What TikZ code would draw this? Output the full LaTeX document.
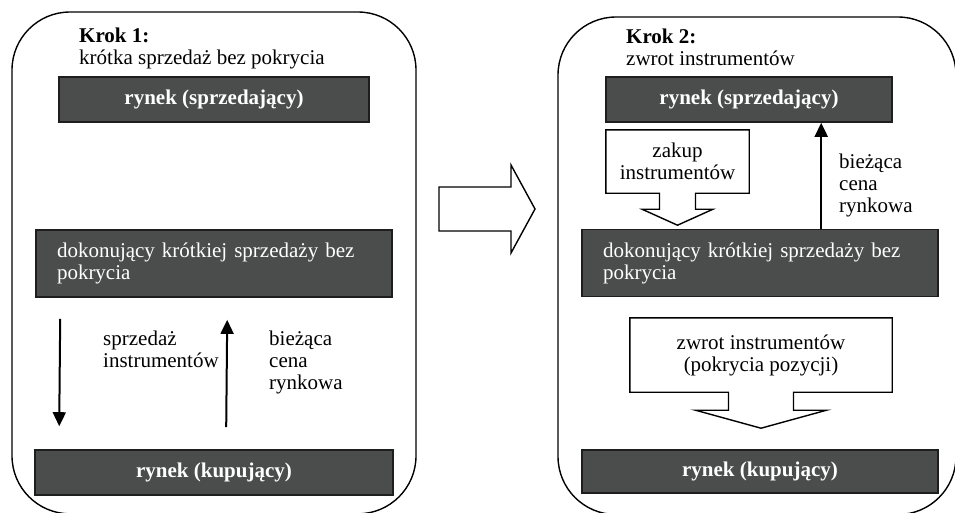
\documentclass[tikz,border=0pt]{standalone}
\usepackage{fontspec}
\setmainfont{Liberation Serif}
\usepackage{tikz}
\usepackage{xcolor}
\usetikzlibrary{arrows.meta}

\definecolor{boxgray}{HTML}{4B4C4C}
\definecolor{boxline}{HTML}{1E1E1E}

\begin{document}
\begin{tikzpicture}[x=1pt,y=-1pt,
  every node/.style={font=\fontsize{21}{22}\selectfont, inner sep=0pt},
  darkbox/.style={draw=boxline, line width=1.6pt, fill=boxgray, text=white, minimum height=45pt},
  widebox/.style={darkbox, text width=314pt, inner xsep=21pt, align=left, minimum height=67pt},
  note/.style={anchor=north west, align=left},
  panel/.style={draw, line width=1.4pt, rounded corners=58pt},
  tailbox/.style={draw, line width=1.4pt, line join=miter},
  flow/.style={line width=2pt, -{Triangle[length=14pt,width=13pt]}}
]
\clip (0,0) rectangle (955,512);

% Two panels
\draw[panel] (12,12) rectangle (416,513.8);
\draw[panel] (558,17) rectangle (956,514.5);

% Big arrow between panels
\draw[tailbox] (439,187) -- (511,187) -- (511,165) -- (535,209) -- (511,253) -- (511,231) -- (439,231) -- cycle;

% Step 1
\node[note] (krok1) at (79,28) {\textbf{Krok 1:}\\krótka sprzedaż bez pokrycia};
\node[darkbox, minimum width=310pt] (sellA) at (214,99.5) {\textbf{rynek (sprzedający)}};
\node[widebox] (shortA) at (214,263.5) {dokonujący krótkiej sprzedaży bez pokrycia};
\node[darkbox, minimum width=358pt] (buyA) at (214,472.5) {\textbf{rynek (kupujący)}};

\node[note] (saleA) at (103,331) {sprzedaż\\instrumentów};
\node[note] (priceA) at (269,331) {bieżąca\\cena\\rynkowa};

\draw[flow] ([shift={(25,21)}]shortA.south west) -- ([shift={(25,-23)}]buyA.north west);
\draw[flow] ([shift={(192,-22)}]buyA.north west) -- ([shift={(192,22)}]shortA.south west);

% Step 2
\node[note] (krok2) at (626,29) {\textbf{Krok 2:}\\zwrot instrumentów};
\node[darkbox, minimum width=286pt] (sellB) at (749,99.5) {\textbf{rynek (sprzedający)}};
\node[align=center, minimum width=143pt, minimum height=63pt] (zakup) at (677.5,161.5) {zakup\\instrumentów};
\node[note] (priceB) at (839,154) {bieżąca\\cena\\rynkowa};
\node[widebox] (shortB) at (760,263) {dokonujący krótkiej sprzedaży bez pokrycia};
\node[align=center, minimum width=262pt, minimum height=74pt] (zwrot) at (761,355) {zwrot instrumentów\\(pokrycia pozycji)};
\node[darkbox, minimum width=356pt, minimum height=43pt] (buyB) at (760,471.5) {\textbf{rynek (kupujący)}};

% box arrows
\draw[tailbox] (zakup.south west) -- (zakup.north west) -- (zakup.north east) -- (zakup.south east)
  -- ([xshift=18pt]zakup.south) -- ++(0,16) -- ++(17.5,0) -- ([yshift=-32pt]zakup.south)
  -- ++(-35.5,-16) -- ++(17.5,0) -- ([xshift=-18pt]zakup.south) -- cycle;
\draw[tailbox] (zwrot.south west) -- (zwrot.north west) -- (zwrot.north east) -- (zwrot.south east)
  -- ([xshift=32.5pt]zwrot.south) -- ++(0,18) -- ++(33,0) -- ([yshift=-36pt]zwrot.south)
  -- ++(-65.5,-18) -- ++(33,0) -- ([xshift=-32.5pt]zwrot.south) -- cycle;

\coordinate (pB) at ([xshift=240pt]shortB.north west);
\draw[flow] (pB) -- (pB |- sellB.south);

\end{tikzpicture}
\end{document}
